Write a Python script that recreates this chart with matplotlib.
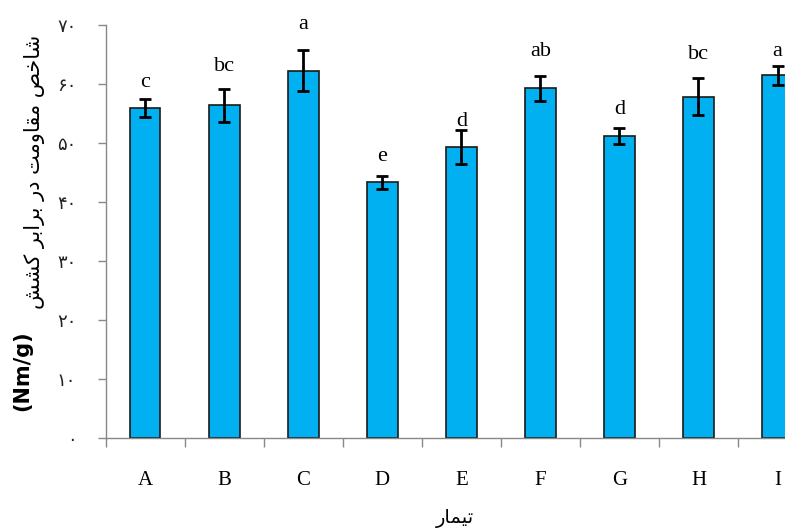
import matplotlib
matplotlib.use("Agg")
import matplotlib.pyplot as plt
import numpy as np

# ---- data ----
categories = ["A", "B", "C", "D", "E", "F", "G", "H", "I"]
values = [55.9, 56.3, 62.2, 43.3, 49.2, 59.2, 51.1, 57.8, 61.4]
errors = [1.5, 2.8, 3.4, 1.1, 2.9, 2.1, 1.4, 3.2, 1.6]
letters = ["c", "bc", "a", "e", "d", "ab", "d", "bc", "a"]
letter_y = [60.2, 62.9, 70.0, 47.6, 53.6, 65.4, 55.6, 64.9, 65.4]
yticks = [0, 10, 20, 30, 40, 50, 60, 70]
persian_digits = "\u06F0\u06F1\u06F2\u06F3\u06F4\u06F5\u06F6\u06F7\u06F8\u06F9"
ytick_labels = ["".join(persian_digits[int(d)] for d in str(v)) for v in yticks]

# Persian text, pre-shaped into presentation forms, in visual (LTR) order
# "شاخص مقاومت در برابر کشش"
w_shakhes = "\uFEBA\uFEA7\uFE8E\uFEB7"
w_moghavemat = "\uFE96\uFEE3\uFEED\uFE8E\uFED8\uFEE3"
w_dar = "\uFEAD\uFEA9"
w_barabar = "\uFEAE\uFE91\uFE8D\uFEAE\uFE91"
w_keshesh = "\uFEB6\uFEB8\uFB90"
ylabel_fa = " ".join([w_keshesh, w_barabar, w_dar, w_moghavemat, w_shakhes])
ylabel_unit = "(Nm/g)"
xlabel_fa = "\uFEAD\uFE8E\uFEE4\uFEF4\uFE97"  # تیمار

W, H = 785, 532
fig = plt.figure(figsize=(W / 100, H / 100), dpi=100)
left_px, right_px = 105.5, 105.5 + 9 * 79.06
top_px, bot_px = 24.5, 438
ax = fig.add_axes([left_px / W, 1 - bot_px / H,
                   (right_px - left_px) / W, (bot_px - top_px) / H])

x = np.arange(len(categories))
ax.bar(x, values, width=0.39, color="#00B0F0", edgecolor="#1a1a1a", linewidth=1.2,
       yerr=errors, error_kw=dict(ecolor="black", elinewidth=2, capsize=4.5, capthick=2),
       zorder=2)

for xi, lt, ly in zip(x, letters, letter_y):
    ax.text(xi, ly, lt, ha="center", va="center", fontsize=16,
            family="Liberation Serif", color="black", clip_on=False)

ax.set_xlim(-0.5, len(categories) - 0.5)
ax.set_ylim(0, 70)
ax.set_yticks(yticks)
ax.set_yticklabels(ytick_labels, fontsize=13, family="DejaVu Sans", color="#222222")

ax.set_xticks(np.arange(len(categories) + 1) - 0.5)
ax.set_xticklabels([])
ax.set_xticks(x, minor=True)
ax.set_xticklabels(categories, minor=True, fontsize=15, family="Liberation Serif")
ax.tick_params(axis="x", which="major", direction="out", length=6.5, color="#888888", width=1)
ax.tick_params(axis="x", which="minor", length=0, pad=24)
ax.tick_params(axis="y", direction="out", length=6, color="#888888", width=1, pad=15)

for s in ["top", "right"]:
    ax.spines[s].set_visible(False)
for s in ["left", "bottom"]:
    ax.spines[s].set_color("#888888")
    ax.spines[s].set_linewidth(1)

fig.text(35 / W, 1 - 172 / H, ylabel_fa, rotation=90, ha="center", va="center",
         fontsize=15, family="DejaVu Sans", color="black")
fig.text(22 / W, 1 - 371 / H, ylabel_unit, rotation=90, ha="center", va="center",
         fontsize=15, family="DejaVu Sans", weight="bold", color="black")
fig.text(455 / W, 1 - 518 / H, xlabel_fa, ha="center", va="center",
         fontsize=14, family="DejaVu Sans", color="black")

fig.savefig("out.png", dpi=100)
